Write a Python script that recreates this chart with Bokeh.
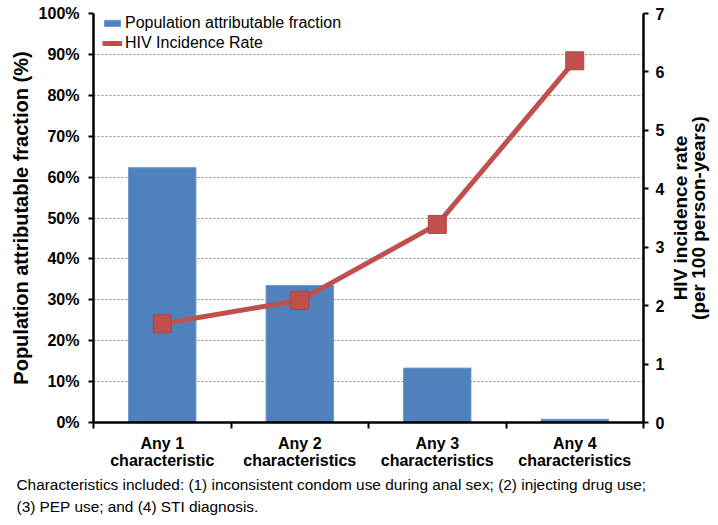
import math
from bokeh.plotting import figure
from bokeh.layouts import row
from bokeh.models import (Range1d, LinearAxis, FixedTicker, NumeralTickFormatter,
                          Legend, LegendItem, Title, ColumnDataSource, Label)
from bokeh.embed import file_html
from bokeh.resources import INLINE

# ---- data ----
categories = ["Any 1\ncharacteristic", "Any 2\ncharacteristics",
              "Any 3\ncharacteristics", "Any 4\ncharacteristics"]
paf = [0.623, 0.335, 0.133, 0.008]          # population attributable fraction
hiv_rate = [1.69, 2.09, 3.39, 6.19]         # per 100 person-years
pct_ticks = [0.0, 0.1, 0.2, 0.3, 0.4, 0.5, 0.6, 0.7, 0.8, 0.9, 1.0]
rate_ticks = [0, 1, 2, 3, 4, 5, 6, 7]
left_title = "Population attributable fraction (%)"
right_title_lines = ["HIV incidence rate", "(per 100 person-years)"]
footnote_lines = [
    "Characteristics included: (1) inconsistent condom use during anal sex; (2) injecting drug use;",
    "(3) PEP use; and (4) STI diagnosis.",
]

FONT = "Liberation Sans"
BLUE = "#4F81BD"
RED = "#C0504D"

W, H = 667, 517
BL, BR, BT, BB = 93, 22, 13, 95
W2 = 43

n = len(categories)
positions = [i + 0.5 for i in range(n)]
boundaries = [i for i in range(n + 1)]

src = ColumnDataSource(dict(x=positions, paf=paf, rate=hiv_rate))

p = figure(width=W, height=H, x_range=Range1d(0, n), y_range=Range1d(0, 1),
           output_backend="svg", toolbar_location=None,
           min_border_left=BL, min_border_right=BR, min_border_top=BT, min_border_bottom=BB)
p.extra_y_ranges = {"rate": Range1d(0, 7)}
p.outline_line_color = None
p.background_fill_color = "white"

bars = p.vbar(x="x", top="paf", width=0.49, source=src,
              fill_color=BLUE, line_color="#6E96C8", line_width=1)
line = p.line(x="x", y="rate", source=src, y_range_name="rate",
              line_color=RED, line_width=5)
marks = p.scatter(x="x", y="rate", source=src, y_range_name="rate", marker="square",
                  size=18, fill_color=RED, line_color="#B3433F", line_width=1)

# grid
p.xgrid.visible = False
p.ygrid.ticker = FixedTicker(ticks=pct_ticks[1:])
p.ygrid.grid_line_color = "#8a8a8a"
p.ygrid.grid_line_dash = "2 2"
p.ygrid.grid_line_width = 1

def style_axis(ax):
    ax.axis_line_color = "black"
    ax.axis_line_width = 2.5
    ax.major_tick_line_color = "black"
    ax.major_tick_line_width = 2
    ax.major_tick_in = 0
    ax.major_tick_out = 5
    ax.minor_tick_line_color = None
    ax.major_label_text_font = FONT
    ax.major_label_text_font_style = "bold"
    ax.major_label_text_font_size = "16px"
    ax.major_label_text_color = "black"
    ax.axis_label_text_font = FONT
    ax.axis_label_text_font_style = "bold"
    ax.axis_label_text_font_size = "20px"
    ax.axis_label_text_color = "black"

# left axis
yl = p.yaxis[0]
style_axis(yl)
yl.ticker = FixedTicker(ticks=pct_ticks)
yl.formatter = NumeralTickFormatter(format="0%")
yl.axis_label = left_title
yl.major_label_standoff = 9
yl.axis_label_standoff = 4

# right axis
yr = LinearAxis(y_range_name="rate", ticker=FixedTicker(ticks=rate_ticks))
style_axis(yr)
yr.major_label_standoff = 7
p.add_layout(yr, "right")

# bottom axis: labels at centres, tick marks at boundaries
xa = p.xaxis[0]
style_axis(xa)
xa.ticker = FixedTicker(ticks=positions, minor_ticks=boundaries)
xa.major_label_overrides = {pos: cat for pos, cat in zip(positions, categories)}
xa.major_tick_out = 0
xa.major_tick_line_color = None
xa.minor_tick_line_color = "black"
xa.minor_tick_line_width = 2
xa.minor_tick_in = 0
xa.minor_tick_out = 6
xa.major_label_standoff = 6
xa.major_label_text_line_height = 1.0

# legend
FH = H - BT - BB
legend = Legend(items=[LegendItem(label="Population attributable fraction", renderers=[bars]),
                       LegendItem(label="HIV Incidence Rate", renderers=[line, marks])],
                location=(9, FH - 40), margin=0, padding=0, spacing=0,
                glyph_width=20, glyph_height=8, label_height=20, label_standoff=3,
                border_line_color=None, background_fill_alpha=0,
                label_text_font=FONT, label_text_font_size="16px", label_text_color="black")
p.add_layout(legend)

for i, txt in enumerate(footnote_lines):
    t = Title(text=txt, align="left", offset=-(BL - 16), text_font=FONT, text_font_size="15.4px",
              text_font_style="normal", text_color="black", standoff=(5 if i == 0 else 0))
    p.add_layout(t, "below")

# right-hand axis title in a narrow companion panel (reads bottom to top);
# its frame is aligned with the main plot's frame by the row layout
p2 = figure(width=W2, height=H, x_range=Range1d(0, W2), y_range=Range1d(0, 1),
            output_backend="svg", toolbar_location=None,
            min_border_left=0, min_border_right=0, min_border_top=0, min_border_bottom=0)
p2.axis.visible = False
p2.grid.visible = False
p2.outline_line_color = None
for xoff, txt in zip([12.5, 31], right_title_lines):
    p2.add_layout(Label(x=xoff, y=0.5, text=txt, angle=math.pi / 2,
                        text_align="center", text_baseline="middle", text_font=FONT,
                        text_font_style="bold", text_font_size="19px", text_color="black"))

layout = row(p, p2, spacing=0)
open("out.html", "w").write(file_html(layout, INLINE))
